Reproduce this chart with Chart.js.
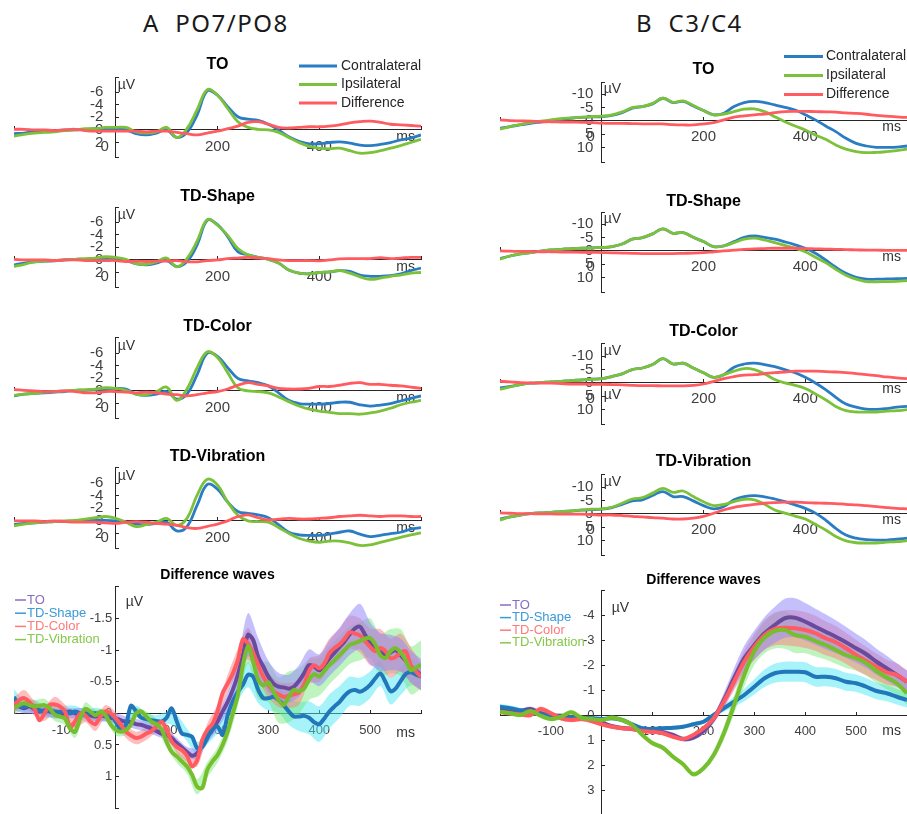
<!DOCTYPE html>
<html lang="en">
<head>
  <meta charset="UTF-8">
  <title>Contralateral / ipsilateral waves</title>
  <script src="https://cdn.jsdelivr.net/npm/chart.js"></script>
  <style>
    body { margin: 0; background: #fff; overflow: hidden; }
    #page { position: relative; width: 907px; height: 814px; overflow: hidden; background: #fff; }
    .head { position: absolute; top: 7px; font: 24px/32px 'Noto Sans', sans-serif; letter-spacing: 1.5px; color: #1a1a1a; white-space: pre; }
    canvas { position: absolute; }
  </style>
</head>
<body>
<div id="page">
  <div class="head" style="left:143px">A  PO7/PO8</div>
  <div class="head" style="left:636px">B  C3/C4</div>
</div>

<script>
  // time points (ms)
  const ms20 = [-200,-180,-160,-140,-120,-100,-80,-60,-40,-20,0,20,40,60,80,100,120,140,160,180,200,
                220,240,260,280,300,320,340,360,380,400,420,440,460,480,500,520,540,560,580,600];
  const ms10 = [-200,-190,-180,-170,-160,-150,-140,-130,-120,-110,-100,-90,-80,-70,-60,-50,-40,-30,-20,-10,
                0,10,20,30,40,50,60,70,80,90,100,110,120,130,140,150,160,170,180,190,
                200,210,220,230,240,250,260,270,280,290,300,310,320,330,340,350,360,370,380,390,
                400,410,420,430,440,450,460,470,480,490,500,510,520,530,540,550,560,570,580,590,600];

  // tick labels
  const poYTicks = [-6, -4, -2, 0, 2];
  const cYTicks = [-10, -5, 0, 5, 10];
  const topXTicks = [200, 400];
  const poDiffYTicks = [-1.5, -1, -0.5, 0, 0.5, 1];
  const cDiffYTicks = [-4, -3, -2, -1, 0, 1, 2, 3];
  const diffXTicks = [-100, 100, 200, 300, 400, 500];

  const waveNames = ['Contralateral', 'Ipsilateral', 'Difference'];
  const condNames = ['TO', 'TD-Shape', 'TD-Color', 'TD-Vibration'];

  // A  PO7/PO8 (uV, 20 ms steps)
  const poTOContra = [0.6,0.5,0.3,0.2,0.1,0,0,-0.1,-0.2,-0.2, -0.2,0,0.6,0.8,0.5,0,1.2,0.4,-2.4,-6.2,-5.5,
                      -3.7,-2.1,-1.7,-1.5,-0.9,0,1.1,1.8,2.2,2.2,2.0,1.9,2.1,2.4,2.5,2.3,2.0,1.6,1.3,0.8];
  const poTOIpsi   = [1.0,0.7,0.5,0.4,0.3,0.1,0,-0.2,-0.2,-0.4, -0.4,-0.4,0.3,0.5,0.3,-0.4,1.2,-0.2,-3.2,-6.4,-5.5,
                      -3.4,-1.3,-0.4,-0.1,0,0.4,1.2,2.0,2.6,2.9,3.0,2.9,3.3,3.7,3.6,3.3,2.9,2.5,2.0,1.5];
  const poTODiff   = [-0.1,-0.1,0,0,0.1,0,-0.1,0.1,0.2,0.2, 0.2,0.2,0.2,0.3,0.2,0.2,0.4,0.6,0.8,0.5,0.2,
                      -0.2,-0.6,-1.2,-1.3,-0.9,-0.4,-0.3,-0.4,-0.5,-0.5,-0.6,-0.8,-1.1,-1.3,-1.4,-1.2,-0.9,-0.8,-0.7,-0.6];

  const poShapeContra = [0.8,0.5,0.3,0.2,0.15,0,-0.1,-0.1,-0.15,-0.2, -0.1,0.1,0.6,0.8,0.5,0.1,1.05,0.25,-2.4,-6.3,-5.6,
                         -3.7,-1.3,-0.8,-0.4,-0.1,0.5,1.6,2.1,2.2,2.0,1.9,1.7,1.8,2.4,2.6,2.6,2.5,2.2,1.7,1.3];
  const poShapeIpsi   = [1.05,0.7,0.3,0.2,0.1,0,-0.1,-0.2,-0.3,-0.5, -0.4,-0.1,0.6,0.7,0.3,-0.3,1.1,-0.2,-3.0,-6.4,-5.5,
                         -3.9,-1.8,-0.8,-0.4,-0.1,0.5,1.6,2.1,2.2,2.0,1.9,1.7,2.1,2.7,3.1,2.9,2.6,2.4,2.1,2.0];
  const poShapeDiff   = [-0.1,0,0,0,0.1,0,0,0.1,0.1,0.1, 0.1,0.25,0.2,0.25,0.2,0.2,0.1,0.3,0.3,0.1,0,
                         -0.2,-0.3,-0.4,-0.3,-0.2,0,0.1,0.1,0.1,0.15,0,-0.15,-0.2,-0.2,-0.2,-0.35,-0.2,-0.3,-0.4,-0.4];

  const poColorContra = [0.8,0.5,0.4,0.3,0.2,0.1,-0.1,-0.1,-0.2,-0.3, -0.4,-0.3,0.5,0.7,0.5,0.1,1.3,0.5,-2.6,-6.0,-5.5,
                         -3.7,-2.0,-1.6,-1.3,-0.8,0.3,1.5,2.0,2.1,2.1,2.0,1.8,1.8,2.2,2.4,2.25,2.0,1.6,1.2,0.8];
  const poColorIpsi   = [0.7,0.5,0.4,0.2,0.1,0,-0.1,-0.2,-0.3,-0.5, -0.4,-0.1,0.5,0.6,0.1,-0.6,1.5,-0.3,-3.7,-6.2,-5.3,
                         -2.9,-0.5,0,0.1,0.3,0.95,1.7,2.4,2.9,3.2,3.4,3.6,3.6,3.7,3.5,3.2,2.75,2.2,1.8,1.5];
  const poColorDiff   = [-0.2,-0.1,0,0.1,0.1,0,0.1,0.3,0.3,0.1, 0.1,0.2,0.3,0.2,0.3,0.5,0.6,0.8,0.6,0.3,0.1,
                         -0.3,-0.9,-1.3,-1.05,-0.8,-0.4,-0.3,-0.3,-0.4,-0.7,-0.7,-0.9,-1.2,-1.3,-1.05,-1.05,-0.9,-0.8,-0.6,-0.4];

  const poVibContra = [0.6,0.4,0.3,0.2,0.1,0.1,0,-0.1,-0.1,-0.1, 0,0.2,0.5,0.6,0.4,0.2,1.6,0.9,-2.5,-5.8,-5.05,
                       -3.0,-1.5,-1.2,-0.95,-0.5,0.6,1.8,2.2,2.3,2.3,2.1,1.8,1.6,2.1,2.5,2.3,2.0,1.8,1.3,1.05];
  const poVibIpsi   = [0.8,0.5,0.3,0.2,0.1,0,-0.1,-0.3,-0.5,-0.7, -0.4,0.2,0.9,0.6,0.2,-0.4,0.7,-0.4,-4.1,-6.6,-5.7,
                       -3.0,-0.9,0,0.1,0.2,1.05,1.95,2.75,3.2,3.4,3.2,3.2,3.5,3.9,3.8,3.4,3.0,2.6,2.2,1.9];
  const poVibDiff   = [0,0,0,0.1,0,0.1,0.2,0.2,0.2,0.3, 0.4,0.2,0.1,0.2,0.4,0.5,0.7,1.05,1.2,0.85,0.5,
                       0,-0.7,-0.95,-0.5,-0.15,-0.3,-0.4,-0.3,-0.3,-0.4,-0.5,-0.7,-0.8,-0.9,-0.8,-0.7,-0.8,-0.8,-0.7,-0.7];

  // B  C3/C4 (uV, 20 ms steps)
  const cTOContra = [2.8,2.1,1.5,0.9,0.4,-0.1,-0.6,-1.0,-1.3,-1.5, -1.6,-2.1,-3.1,-4.8,-5.4,-6.4,-8.5,-6.9,-7.3,-5.6,-3.9,
                     -2.3,-2.9,-5.4,-6.9,-7.3,-6.9,-6.0,-5.1,-4.1,-2.3,-0.4,1.9,4.0,6.5,8.4,9.4,9.9,9.9,9.8,9.4];
  const cTOIpsi   = [3.1,2.1,1.4,0.6,0.1,-0.4,-0.9,-1.1,-1.4,-1.6, -1.8,-2.3,-3.4,-5.0,-5.4,-6.6,-8.5,-7.0,-7.5,-5.8,-3.9,
                     -2.3,-2.6,-3.5,-4.4,-4.5,-3.5,-1.6,0.3,1.9,3.4,5.3,6.9,9.0,10.6,11.5,11.9,11.8,11.5,11.1,10.6];
  const cTODiff   = [-0.4,-0.1,0,0.1,0.3,0.3,0.4,0.4,0.5,0.6, 0.8,0.9,0.9,1.0,1.1,1.1,1.1,1.4,1.5,1.5,1.1,
                     0.6,-0.4,-1.4,-1.9,-2.3,-2.6,-3.1,-3.5,-3.6,-3.6,-3.5,-3.4,-3.3,-3.0,-2.8,-2.5,-2.1,-1.8,-1.5,-1.3];

  const cShapeContra = [2.8,1.9,1.1,0.6,0.1,-0.4,-0.6,-0.9,-1.0,-1.1, -1.3,-1.6,-2.6,-4.4,-5.0,-6.4,-8.3,-6.6,-6.9,-5.1,-3.5,
                        -1.6,-1.9,-3.5,-5.1,-5.6,-5.1,-4.4,-3.4,-2.3,-1.0,0.9,3.4,6.1,8.4,9.9,10.6,10.6,10.5,10.4,10.3];
  const cShapeIpsi   = [3.1,1.9,1.1,0.6,0.1,-0.4,-0.6,-0.9,-1.0,-1.1, -1.3,-1.6,-2.6,-4.4,-5.0,-6.4,-8.3,-6.6,-6.9,-5.1,-3.5,
                        -1.6,-1.9,-3.1,-4.4,-4.8,-4.1,-3.1,-2.1,-1.0,0.3,2.4,4.4,6.9,9.1,10.6,11.5,11.6,11.5,11.4,11.1];
  const cShapeDiff   = [0,0.1,0.2,0.2,0.3,0.3,0.4,0.4,0.5,0.5, 0.6,0.7,0.8,0.9,1.0,1.0,1.0,1.0,0.9,0.8,0.6,
                        0.3,0,-0.3,-0.6,-0.8,-0.9,-1.0,-1.0,-1.0,-0.9,-0.8,-0.7,-0.6,-0.5,-0.4,-0.3,-0.3,-0.2,-0.2,-0.2];

  const cColorContra = [1.9,1.3,0.6,0.1,-0.1,-0.4,-0.6,-0.9,-1.1,-1.4, -1.6,-2.4,-3.4,-5.0,-5.6,-6.9,-9.1,-7.1,-7.4,-5.6,-3.8,
                        -2.1,-3.1,-5.9,-7.1,-7.4,-6.9,-6.1,-5.0,-3.8,-2.1,0,2.5,5.4,7.9,9.1,9.8,9.9,9.6,9.1,8.8];
  const cColorIpsi   = [2.4,1.5,0.6,0.1,-0.1,-0.4,-0.6,-0.9,-1.1,-1.4, -1.6,-2.4,-3.4,-5.0,-5.6,-6.9,-9.1,-7.1,-7.4,-5.6,-3.8,
                        -2.1,-3.1,-4.4,-5.4,-5.0,-3.4,-1.3,0,0.9,2.1,4.1,6.3,8.8,10.4,10.9,10.9,10.9,10.6,10.4,10.0];
  const cColorDiff   = [-0.6,-0.4,-0.1,0,0.1,0.1,0.25,0.4,0.4,0.5, 0.5,0.6,0.75,0.9,1.0,1.0,1.1,1.1,1.1,0.9,0.4,
                        -0.6,-1.6,-2.4,-2.9,-3.1,-3.5,-3.9,-4.1,-4.4,-4.4,-4.4,-4.25,-4.1,-3.9,-3.5,-3.1,-2.75,-2.25,-1.9,-1.6];

  const cVibContra = [1.9,1.1,0.4,-0.1,-0.4,-0.6,-0.9,-1.1,-1.4,-1.6, -1.8,-2.4,-3.6,-4.9,-5.3,-6.9,-8.4,-6.5,-6.5,-4.9,-3.1,
                      -1.9,-2.8,-5.3,-6.5,-6.9,-6.4,-5.6,-4.6,-3.4,-2.1,-0.3,2.3,5.4,7.9,9.1,9.6,9.8,9.8,9.5,9.1];
  const cVibIpsi   = [2.3,1.1,0.4,-0.1,-0.4,-0.6,-0.9,-1.1,-1.5,-1.8, -1.9,-2.5,-4.0,-5.6,-6.1,-7.8,-9.6,-8.1,-8.6,-6.5,-4.6,
                      -3.1,-3.6,-4.6,-5.5,-5.3,-3.6,-1.5,-0.3,0.8,1.9,3.9,6.0,8.5,10.1,10.8,10.9,10.9,10.6,10.4,10.0];
  const cVibDiff   = [-0.4,-0.25,-0.1,-0.1,0,0,0.1,0.1,0.1,0.25, 0.4,0.4,0.6,0.9,1.1,1.4,1.6,1.9,1.9,1.6,0.9,
                      -0.25,-1.5,-2.5,-3.1,-3.6,-4.0,-4.25,-4.4,-4.4,-4.25,-4.1,-4.0,-3.9,-3.6,-3.4,-3.1,-2.75,-2.4,-2.1,-1.9];

  // A  difference waves (uV, 10 ms steps)
  const poDiffTO = [-0.13,-0.11,-0.08,-0.11,-0.07,-0.03,-0.05,-0.03,0,0.02, 0,-0.03,0,0.02,0,0.03,0.05,0.03,0.05,0.07,
                    0.08,0.11,0.13,0.14,0.17,0.18,0.21,0.24,0.28,0.32, 0.34,0.39,0.47,0.54,0.61,0.67,0.63,0.5,0.37,0.26,
                    0.13,-0.03,-0.18,-0.37,-0.61,-0.92,-1.24,-1.16,-0.89,-0.74, -0.58,-0.47,-0.42,-0.41,-0.39,-0.42,-0.51,-0.63,-0.76,-0.74,
                    -0.68,-0.76,-0.87,-0.96,-1.05,-1.14,-1.25,-1.34,-1.37,-1.24, -1.11,-1.03,-0.97,-0.93,-0.96,-1.0,-0.92,-0.83,-0.74,-0.67, -0.61];
  const poDiffShape = [-0.26,-0.11,-0.11,-0.13,-0.11,-0.05,-0.03,-0.04,-0.03,-0.02, -0.03,0,-0.03,0,0.03,0,0,0.02,0.04,0.03,
                       0.13,0.26,0.18,-0.12,-0.03,0.07,0.09,0.11,0.12,0.13, 0.07,-0.08,0.13,0.32,0.34,0.37,0.55,0.53,0.39,0.24,
                       0.21,0.34,0.03,-0.19,-0.34,-0.45,-0.61,-0.58,-0.37,-0.24, -0.24,-0.26,-0.21,-0.13,-0.03,0.05,0.05,0.04,0.07,0.14,
                       0.17,0.08,-0.03,-0.11,-0.18,-0.28,-0.35,-0.37,-0.34,-0.38, -0.45,-0.55,-0.63,-0.5,-0.35,-0.39,-0.51,-0.62,-0.65,-0.61, -0.58];
  const poDiffColor = [-0.13,-0.21,-0.24,-0.18,-0.08,0.11,0,-0.13,-0.14,-0.11, -0.03,0.21,0.13,0,0.03,0.13,0.17,0.05,-0.03,0,
                       0.08,0.18,0.29,0.35,0.39,0.37,0.32,0.28,0.21,0.13, 0.26,0.45,0.53,0.58,0.67,0.84,0.74,0.42,0.26,0.17,
                       -0.03,-0.32,-0.47,-0.63,-0.84,-1.17,-1.1,-0.96,-0.76,-0.58, -0.45,-0.34,-0.3,-0.26,-0.28,-0.3,-0.33,-0.45,-0.67,-0.76,
                       -0.71,-0.79,-0.95,-1.03,-1.09,-1.18,-1.28,-1.26,-1.23,-1.14, -1.05,-0.98,-1.03,-0.98,-0.87,-0.89,-0.96,-0.98,-0.76,-0.66, -0.58];
  const poDiffVib = [-0.08,-0.13,-0.16,-0.13,-0.11,-0.12,-0.13,-0.08,0.02,0.05, 0.08,0.24,0.29,0.08,-0.07,-0.03,0.03,-0.03,0.03,0.18,
                     0.26,0.29,0.26,0.18,0,-0.03,0.05,0.13,0.17,0.25, 0.45,0.61,0.68,0.76,0.84,0.97,1.16,1.18,0.89,0.76,
                     0.66,0.5,0.29,0,-0.29,-0.76,-1.06,-0.82,-0.53,-0.44, -0.49,-0.34,-0.21,-0.13,-0.26,-0.37,-0.35,-0.39,-0.53,-0.62,
                     -0.58,-0.67,-0.76,-0.84,-0.92,-1.0,-1.08,-1.11,-1.14,-1.18, -1.19,-1.09,-0.92,-0.87,-0.98,-1.03,-0.96,-0.84,-0.68,-0.72, -0.77];
  // standard error half widths (uV, 20 ms steps)
  const poSeTO = [0.08,0.08,0.08,0.08,0.08,0.08,0.08,0.08,0.08,0.08,0.08,0.08,0.08,0.08,0.08,0.08,0.08,0.08,0.09,0.1,
                  0.12,0.15,0.22,0.34,0.3,0.25,0.22,0.22,0.25,0.25,0.25,0.28,0.3,0.33,0.36,0.33,0.3,0.28,0.26,0.25,0.25];
  const poSeShape = [0.12,0.1,0.1,0.1,0.09,0.09,0.09,0.09,0.09,0.09,0.09,0.09,0.09,0.09,0.09,0.09,0.1,0.1,0.1,0.1,
                     0.11,0.13,0.16,0.2,0.21,0.2,0.2,0.21,0.23,0.26,0.28,0.27,0.25,0.23,0.22,0.21,0.2,0.21,0.22,0.21,0.2];
  const poSeColor = [0.12,0.13,0.12,0.12,0.12,0.11,0.11,0.11,0.11,0.1,0.1,0.1,0.1,0.1,0.1,0.1,0.1,0.1,0.1,0.1,
                     0.11,0.14,0.18,0.25,0.22,0.2,0.2,0.2,0.2,0.2,0.21,0.23,0.25,0.26,0.27,0.29,0.3,0.31,0.3,0.28,0.22];
  const poSeVib = [0.1,0.1,0.1,0.1,0.1,0.1,0.1,0.1,0.09,0.09,0.09,0.08,0.08,0.08,0.08,0.09,0.1,0.11,0.12,0.12,
                   0.12,0.14,0.18,0.27,0.3,0.32,0.36,0.4,0.36,0.32,0.3,0.3,0.3,0.3,0.3,0.31,0.33,0.35,0.37,0.38,0.38];

  // B  difference waves (uV, 20 ms steps)
  const cDiffTO = [-0.27,-0.2,-0.16,-0.24,-0.07,0.03,0.03,0.11,0.13,0.16, 0.3,0.45,0.52,0.56,0.61,0.64,0.69,0.8,0.96,0.91,0.64,
                   0.16,-0.6,-1.47,-2.27,-2.8,-3.27,-3.6,-3.87,-3.89,-3.73,-3.53,-3.33,-3.13,-2.91,-2.67,-2.43,-2.13,-1.87,-1.6,-1.33];
  const cDiffShape = [-0.33,-0.27,-0.19,-0.11,-0.03,0.03,0.07,0.11,0.13,0.13, 0.16,0.13,0.2,0.37,0.53,0.56,0.53,0.51,0.47,0.37,0.27,
                      0,-0.27,-0.53,-0.8,-1.13,-1.47,-1.67,-1.73,-1.73,-1.71,-1.53,-1.53,-1.47,-1.33,-1.27,-1.13,-0.96,-0.87,-0.73,-0.6];
  const cDiffColor = [-0.13,-0.07,-0.03,0,-0.24,-0.07,0.13,0.2,0.16,0.24, 0.37,0.47,0.53,0.56,0.64,0.67,0.73,0.87,0.96,0.8,0.53,
                      0.13,-0.53,-1.33,-2.13,-2.73,-3.2,-3.44,-3.49,-3.47,-3.4,-3.27,-3.07,-2.91,-2.67,-2.4,-2.16,-1.93,-1.71,-1.6,-1.33];
  const cDiffVib = [-0.13,-0.07,0,-0.16,0.03,0.16,0.07,-0.11,0.11,0.16, 0.2,0.11,0.2,0.4,0.8,1.13,1.31,1.67,1.97,2.37,2.13,
                    1.6,0.73,-0.4,-1.6,-2.56,-3.1,-3.36,-3.4,-3.2,-3.13,-2.96,-2.8,-2.6,-2.4,-2.27,-2.07,-1.76,-1.5,-1.27,-0.87];
  const cSeTO = [0.1,0.1,0.1,0.1,0.09,0.09,0.09,0.09,0.09,0.09,0.09,0.09,0.09,0.09,0.09,0.1,0.1,0.1,0.1,0.1,
                 0.12,0.17,0.28,0.4,0.5,0.58,0.65,0.72,0.78,0.78,0.75,0.72,0.7,0.66,0.62,0.58,0.55,0.52,0.5,0.47,0.45];
  const cSeShape = [0.12,0.11,0.1,0.1,0.1,0.09,0.09,0.09,0.09,0.09,0.08,0.08,0.08,0.08,0.08,0.08,0.08,0.08,0.08,0.08,
                    0.08,0.1,0.14,0.2,0.25,0.3,0.35,0.38,0.4,0.4,0.4,0.39,0.38,0.37,0.36,0.35,0.34,0.33,0.32,0.31,0.3];
  const cSeColor = [0.1,0.1,0.1,0.1,0.1,0.1,0.09,0.09,0.09,0.09,0.08,0.08,0.08,0.08,0.08,0.08,0.08,0.08,0.08,0.08,
                    0.1,0.15,0.25,0.35,0.45,0.52,0.6,0.66,0.7,0.72,0.72,0.7,0.68,0.65,0.62,0.6,0.57,0.53,0.5,0.47,0.45];
  const cSeVib = [0.1,0.1,0.1,0.1,0.1,0.1,0.1,0.1,0.1,0.1,0.1,0.1,0.1,0.1,0.1,0.1,0.1,0.1,0.1,0.1,
                  0.12,0.18,0.27,0.36,0.46,0.55,0.63,0.7,0.75,0.72,0.66,0.62,0.58,0.55,0.52,0.5,0.49,0.48,0.47,0.46,0.45];

  // ---------------------------------------------------------------
  const WAVE_COLORS = ['#2b7dc3', '#7cc13a', '#ff5b60'];
  const COND_LINE = ['#6a4a9c', '#2277bb', '#ff5b60', '#76be2e'];
  const COND_KEY = ['#8a6cc2', '#3b9ad8', '#ff7a7a', '#85c84a'];
  const COND_BAND = ['rgba(150,140,250,0.55)', 'rgba(80,232,245,0.5)', 'rgba(255,125,125,0.5)', 'rgba(100,228,100,0.42)'];
  const AXIS = '#262626';
  const TICK_TXT = '#404040';

  Chart.defaults.font.family = "'Liberation Sans', Arial, sans-serif";

  const decor = {
    id: 'decor',
    beforeDatasetsDraw(chart, args, o) {
      const {ctx, chartArea} = chart;
      const x0 = chart.scales.x.getPixelForValue(0);
      const y0 = chart.scales.y.getPixelForValue(0);
      ctx.save();
      ctx.fillStyle = '#333';
      ctx.textBaseline = 'middle';
      ctx.font = o.unitFont;
      ctx.textAlign = 'left';
      ctx.fillText('µV', x0 + o.unit[0], chartArea.top + o.unit[1]);
      if (o.unit2) ctx.fillText('µV', x0 + o.unit2[0], y0 + o.unit2[1]);
      ctx.textAlign = 'right';
      ctx.fillText('ms', chartArea.right - o.ms[0], y0 + o.ms[1]);
      if (o.zero) {
        ctx.font = o.zeroFont;
        ctx.fillStyle = TICK_TXT;
        ctx.fillText('0', x0 + o.zero[0], y0 + o.zero[1]);
      }
      ctx.restore();
    },
    afterDraw(chart, args, o) {
      if (!o.legend) return;
      const L = o.legend;
      const ctx = chart.ctx;
      const items = chart.data.datasets.filter(d => d.keyColor);
      ctx.save();
      ctx.font = L.font;
      ctx.textBaseline = 'middle';
      ctx.textAlign = 'left';
      items.forEach((d, i) => {
        const x = L.x - o.left;
        const y = L.y - o.top + i * L.rowH;
        ctx.strokeStyle = d.keyColor;
        ctx.lineWidth = L.lw;
        ctx.beginPath();
        ctx.moveTo(x, y);
        ctx.lineTo(x + L.len, y);
        ctx.stroke();
        ctx.fillStyle = L.textColor || d.keyText;
        ctx.fillText(d.label, x + L.len + L.gap, y);
      });
      ctx.restore();
    }
  };

  function addCanvas(left, top, w, h) {
    const c = document.createElement('canvas');
    c.width = w; c.height = h;
    c.style.left = left + 'px';
    c.style.top = top + 'px';
    document.getElementById('page').appendChild(c);
    return c;
  }

  function pts(times, vals) {
    return times.map((t, i) => ({x: t, y: vals[i]}));
  }

  function scales(o) {
    const grid = { display: true, drawOnChartArea: false, drawTicks: true, tickLength: -4, color: AXIS, lineWidth: 1 };
    const border = { display: true, color: AXIS, width: 1 };
    return {
      x: {
        type: 'linear', min: -200, max: 600, position: {y: 0}, grid, border,
        afterBuildTicks: s => { s.ticks = [-200, ...o.xTicks, 600].map(v => ({value: v})); },
        ticks: { autoSkip: false, maxRotation: 0, padding: o.xPad, color: TICK_TXT, font: {size: o.tick},
                 callback: v => o.xTicks.includes(v) ? String(v) : '' }
      },
      y: {
        type: 'linear', reverse: true, min: o.yMin, max: o.yMax, position: {x: 0}, grid, border,
        afterBuildTicks: s => { s.ticks = [o.yMin, ...o.yTicks, o.yMax].map(v => ({value: v})); },
        ticks: { autoSkip: false, color: TICK_TXT, font: {size: o.tick},
                 callback: v => o.yTicks.includes(v) ? String(v) + o.ySpace : '' }
      }
    };
  }

  function topPanel(side, g, title, contra, ipsi, diff, legend) {
    const isA = side === 'A';
    const left = isA ? 0 : 480, w = isA ? 435 : 440;
    const top = Math.round(g.c - 23.6);
    const h = g.b - top + 26;
    const canvas = addCanvas(left, top, w, h);
    const waves = [contra, ipsi, diff];
    const datasets = waves.map((vals, i) => ({
      label: waveNames[i], data: pts(ms20, vals), borderColor: WAVE_COLORS[i], keyColor: WAVE_COLORS[i],
      borderWidth: 2.8, pointRadius: 0, tension: 0.4, fill: false, order: 2 - i
    }));
    new Chart(canvas, {
      type: 'line',
      data: { datasets },
      plugins: [decor],
      options: {
        responsive: false, animation: false, devicePixelRatio: 1,
        layout: { padding: { left: isA ? 14 : 20, right: isA ? 14 : 13, top: 0, bottom: 26 } },
        scales: scales({
          xTicks: topXTicks, yTicks: isA ? poYTicks : cYTicks, yMin: isA ? -8.4 : -14.6, yMax: isA ? 4.3 : 15.4,
          tick: 15, xPad: isA ? 12 : 11, ySpace: isA ? '   ' : '  '
        }),
        plugins: {
          legend: { display: false }, tooltip: { enabled: false },
          title: { display: true, text: title, fullSize: false, color: '#000', font: { size: 16, weight: 'bold' },
                   padding: { top: g.c - 9.6 - top + 2, bottom: Math.max(g.a - g.c - 9.6 - 2, 0) } },
          decor: {
            left, top, unitFont: '14px "Liberation Sans", Arial', unit: [2, isA ? 8 : 7],
            unit2: g.unit2 ? [2, 12] : null, ms: [6, isA ? 7 : 6],
            zero: [-7, isA ? 17 : 16], zeroFont: '15px "Liberation Sans", Arial',
            legend: legend ? Object.assign({ len: 38, gap: 4, lw: 3, font: '14px "Liberation Sans", Arial', textColor: '#262626' }, legend) : null
          }
        }
      }
    });
  }

  function diffPanel(side, g, times, step, lines, ses) {
    const isA = side === 'A';
    const left = isA ? 0 : 480, w = isA ? 435 : 440;
    const top = Math.round(g.c - 13);
    const h = 262;
    const canvas = addCanvas(left, top, w, h);
    const datasets = lines.map((vals, i) => ({
      label: condNames[i], data: pts(times, vals), borderColor: COND_LINE[i], keyColor: COND_KEY[i], keyText: COND_KEY[i],
      borderWidth: 4, pointRadius: 0, tension: 0.3, fill: false, order: 3 - i
    }));
    const bandOrder = [10, 13, 11, 12];
    lines.forEach((vals, i) => {
      const up = ms20.map((t, k) => ({x: t, y: vals[k * step] - ses[i][k]}));
      const lo = ms20.map((t, k) => ({x: t, y: vals[k * step] + ses[i][k]}));
      datasets.push({ data: up, borderWidth: 0, borderColor: 'transparent', pointRadius: 0, tension: 0.3, fill: false, order: bandOrder[i] });
      datasets.push({ data: lo, borderWidth: 0, borderColor: 'transparent', pointRadius: 0, tension: 0.3, fill: '-1',
                      backgroundColor: COND_BAND[i], order: bandOrder[i] });
    });
    new Chart(canvas, {
      type: 'line',
      data: { datasets },
      plugins: [decor],
      options: {
        responsive: false, animation: false, devicePixelRatio: 1,
        layout: { padding: { left: isA ? 14 : 20, right: isA ? 14 : 13, top: 0, bottom: top + h - g.b } },
        scales: scales({
          xTicks: diffXTicks, yTicks: isA ? poDiffYTicks : cDiffYTicks, yMin: isA ? -2 : -5, yMax: isA ? 1.5 : 4,
          tick: 13, xPad: 13, ySpace: isA ? ' ' : '  '
        }),
        plugins: {
          legend: { display: false }, tooltip: { enabled: false },
          title: { display: true, text: 'Difference waves', fullSize: false, color: '#000', font: { size: 14, weight: 'bold' },
                   padding: { top: g.c - 8.4 - top, bottom: g.a - g.c - 8.4 } },
          decor: {
            left, top, unitFont: '14px "Liberation Sans", Arial', unit: [10, isA ? 15 : 18], ms: [6, isA ? 20 : 16],
            legend: { x: isA ? 15 : 500, y: isA ? 600 : 605, rowH: isA ? 13.2 : 12.6, len: 11, gap: 1, lw: 1.5,
                      font: '13px "Liberation Sans", Arial' }
          }
        }
      }
    });
  }

  // panel placement (title centre, plot top, plot bottom in page pixels)
  topPanel('A', {c: 63, a: 77, b: 157}, 'TO', poTOContra, poTOIpsi, poTODiff, {x: 299, y: 66, rowH: 18.5});
  topPanel('A', {c: 195, a: 207, b: 287}, 'TD-Shape', poShapeContra, poShapeIpsi, poShapeDiff);
  topPanel('A', {c: 325, a: 338, b: 418}, 'TD-Color', poColorContra, poColorIpsi, poColorDiff);
  topPanel('A', {c: 455, a: 468, b: 548}, 'TD-Vibration', poVibContra, poVibIpsi, poVibDiff);

  topPanel('B', {c: 68, a: 82, b: 162}, 'TO', cTOContra, cTOIpsi, cTODiff, {x: 784, y: 56.5, rowH: 19, len: 39, gap: 3});
  topPanel('B', {c: 200, a: 212, b: 292}, 'TD-Shape', cShapeContra, cShapeIpsi, cShapeDiff);
  topPanel('B', {c: 330, a: 344, b: 424, unit2: true}, 'TD-Color', cColorContra, cColorIpsi, cColorDiff);
  topPanel('B', {c: 460, a: 475, b: 555}, 'TD-Vibration', cVibContra, cVibIpsi, cVibDiff);

  diffPanel('A', {c: 575, a: 586.7, b: 808.3}, ms10, 2,
            [poDiffTO, poDiffShape, poDiffColor, poDiffVib], [poSeTO, poSeShape, poSeColor, poSeVib]);
  diffPanel('B', {c: 580, a: 590, b: 815}, ms20, 1,
            [cDiffTO, cDiffShape, cDiffColor, cDiffVib], [cSeTO, cSeShape, cSeColor, cSeVib]);
</script>
</body>
</html>
